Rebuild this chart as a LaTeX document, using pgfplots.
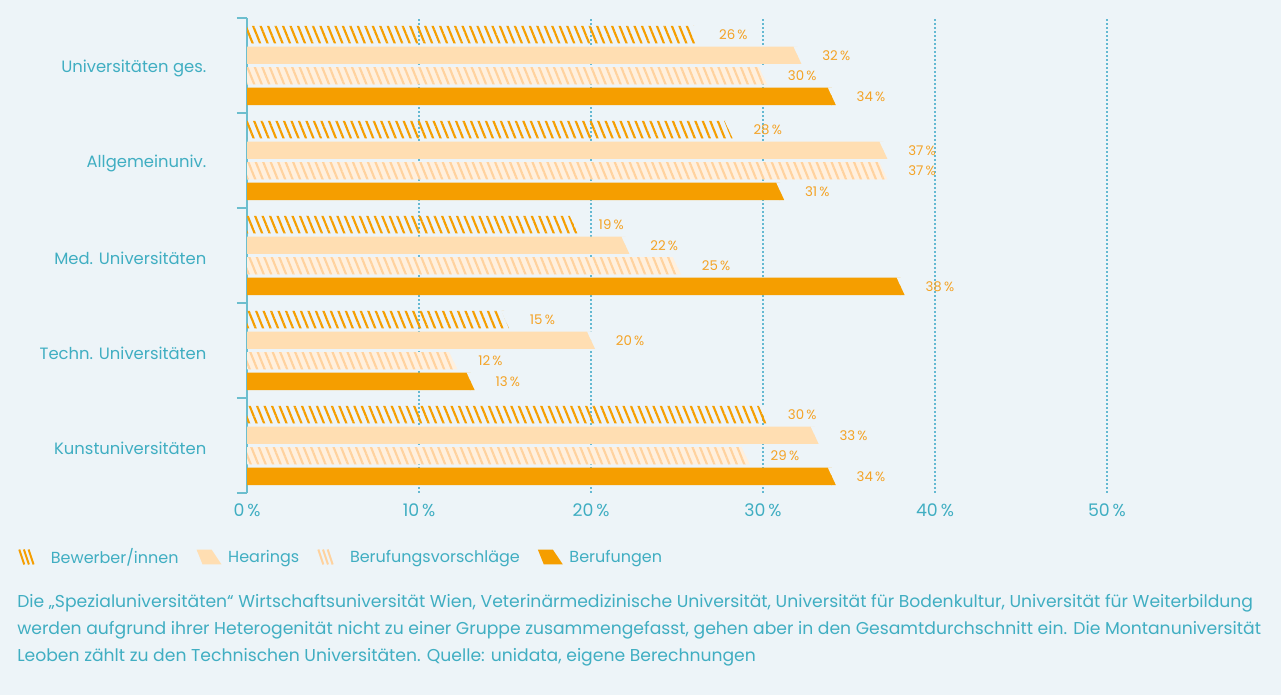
\documentclass[border=0pt]{standalone}
\usepackage{fontspec}
\setmainfont{Poppins}
\usepackage{pgfplots}
\usepackage{pgfplotstable}
\pgfplotsset{compat=1.18}
\usetikzlibrary{patterns.meta}

\definecolor{bg}{RGB}{237,244,248}
\definecolor{tealtext}{RGB}{64,174,194}
\definecolor{axisteal}{RGB}{108,190,206}
\definecolor{gridc}{RGB}{100,185,210}
\definecolor{org}{RGB}{245,158,0}
\definecolor{lbl}{RGB}{244,163,38}
\definecolor{hear}{RGB}{255,222,178}
\definecolor{vfill}{RGB}{255,240,222}
\definecolor{vline}{RGB}{255,210,158}

\tikzset{
  hatchA/.style={pattern={Lines[angle=112,distance=5.2pt,line width=1.6pt]},pattern color=org},
  hatchC/.style={pattern={Lines[angle=112,distance=5.2pt,line width=1.6pt]},pattern color=vline},
}
% slanted bar end: cut the upper corner with the background colour, add the lower triangle
\newcommand{\cutcorner}{%
  \pgfpathmoveto{\pgfqpoint{-3pt}{6.68pt}}\pgfpathlineto{\pgfqpoint{0.6pt}{6.68pt}}%
  \pgfpathlineto{\pgfqpoint{0.6pt}{-1.3pt}}\pgfpathclose
  \pgfsetfillcolor{bg}\pgfusepath{fill}}
\pgfdeclareplotmark{tipA}{\cutcorner\path[hatchA] (-0.5pt,1.08pt) -- (-0.5pt,-6.48pt) -- (3pt,-6.48pt) -- cycle;}
\pgfdeclareplotmark{tipB}{\cutcorner\fill[hear] (-0.5pt,1.08pt) -- (-0.5pt,-6.48pt) -- (3pt,-6.48pt) -- cycle;}
\pgfdeclareplotmark{tipC}{\cutcorner\fill[vfill] (-0.5pt,1.08pt) -- (-0.5pt,-6.48pt) -- (3pt,-6.48pt) -- cycle;}
\pgfdeclareplotmark{tipCh}{\cutcorner\path[hatchC] (-0.5pt,1.08pt) -- (-0.5pt,-6.48pt) -- (3pt,-6.48pt) -- cycle;}
\pgfdeclareplotmark{tipD}{\cutcorner\fill[org] (-0.5pt,1.08pt) -- (-0.5pt,-6.48pt) -- (3pt,-6.48pt) -- cycle;}

\pgfplotstableread{
g bew hear vor ber
4 26 32 30 34
3 28 37 37 31
2 19 22 25 38
1 15 20 12 13
0 30 33 29 34
}\data

\begin{document}
\begin{tikzpicture}
\fill[bg] (0,0) rectangle (960.75pt,521.25pt);
\begin{axis}[
  at={(185.25pt,151.5pt)}, anchor=south west,
  scale only axis, width=645pt, height=356.25pt,
  xmin=0, xmax=50, ymin=-0.5, ymax=4.5,
  clip=false,
  xbar, bar width=0.182, bar shift=0pt,
  axis y line*=left, axis x line*=bottom,
  x axis line style={draw=none},
  y axis line style={-, draw=axisteal, line width=1.1pt},
  xtick={0,10,20,30,40,50},
  xticklabels={0\,\%,10\,\%,20\,\%,30\,\%,40\,\%,50\,\%},
  xtick style={draw=none},
  xmajorgrids, grid style={gridc, dash pattern=on 1.5pt off 1.5pt, line width=0.85pt},
  major tick length=0pt,
  ytick={0,1,2,3,4},
  yticklabels={Kunstuniversitäten, Techn. Universitäten, Med. Universitäten, Allgemeinuniv., Universitäten ges.},
  extra y ticks={-0.5,0.5,1.5,2.5,3.5,4.5},
  extra y tick labels={},
  extra y tick style={major tick length=7.5pt, tick align=outside, tick style={draw=axisteal, line width=1.1pt}},
  yticklabel style={font=\fontsize{12.3}{14.5}\selectfont, text=tealtext, xshift=-27pt, yshift=-2.5pt},
  xticklabel style={font=\fontsize{13}{15.6}\selectfont, text=tealtext, yshift=-4.5pt},
  point meta=x,
  /pgf/number format/assume math mode=true,
  every node near coord/.style={anchor=west, inner sep=0pt, xshift=18.5pt, font=\fontsize{10}{12}\selectfont, text=lbl},
  legend style={at={(axis description cs:-0.2663,-0.1347)}, anchor=west, draw=none, fill=none, inner sep=0pt,
    nodes={inner sep=0pt},
    legend columns=4, font=\fontsize{12}{14.4}\selectfont, text=tealtext,
    /tikz/every odd column/.append style={column sep=5pt},
    /tikz/every even column/.append style={column sep=13.5pt}},
  legend cell align=left,
]
\addplot[xbar, draw=none, hatchA, mark=tipA,
  nodes near coords={\pgfmathprintnumber{\pgfplotspointmeta}\,\%},
  legend image code/.code={\path (0pt,0pt) (18.75pt,0pt); \draw[org,line width=1.5pt] (0pt,5.6pt)--(3.75pt,-5.6pt) (3.5pt,5.6pt)--(7.25pt,-5.6pt) (7pt,5.6pt)--(10.75pt,-5.6pt);}]
  table[x=bew, y expr=\thisrow{g}+0.325]{\data};
\addlegendentry{Bewerber/innen}
\addplot[xbar, draw=none, fill=hear, mark=tipB,
  nodes near coords={\pgfmathprintnumber{\pgfplotspointmeta}\,\%},
  legend image code/.code={\fill[hear] (0pt,5.6pt) -- (11.25pt,5.6pt) -- (18.75pt,-5.6pt) -- (4.5pt,-5.6pt) -- cycle;}]
  table[x=hear, y expr=\thisrow{g}+0.108]{\data};
\addlegendentry{Hearings}
\addplot[xbar, draw=none, fill=vfill, mark=tipC, forget plot]
  table[x=vor, y expr=\thisrow{g}-0.108]{\data};
\addplot[xbar, draw=none, hatchC, mark=tipCh,
  nodes near coords={\pgfmathprintnumber{\pgfplotspointmeta}\,\%},
  legend image code/.code={\path (0pt,0pt) (18.75pt,0pt); \draw[vline,line width=1.5pt] (0pt,5.6pt)--(3.75pt,-5.6pt) (3.5pt,5.6pt)--(7.25pt,-5.6pt) (7pt,5.6pt)--(10.75pt,-5.6pt);}]
  table[x=vor, y expr=\thisrow{g}-0.108]{\data};
\addlegendentry{Berufungsvorschläge}
\addplot[xbar, draw=none, fill=org, mark=tipD,
  nodes near coords={\pgfmathprintnumber{\pgfplotspointmeta}\,\%},
  legend image code/.code={\fill[org] (0pt,5.6pt) -- (11.25pt,5.6pt) -- (18.75pt,-5.6pt) -- (4.5pt,-5.6pt) -- cycle;}]
  table[x=ber, y expr=\thisrow{g}-0.325]{\data};
\addlegendentry{Berufungen}
\end{axis}
\begin{scope}[every node/.style={anchor=base west, inner sep=0pt, text=tealtext, font=\fontsize{12.9}{15}\selectfont}]
\node at (12.75pt,65.25pt) {Die „Spezialuniversitäten“ Wirtschaftsuniversität Wien, Veterinärmedizinische Universität, Universität für Bodenkultur, Universität für Weiterbildung};
\node at (12.75pt,45pt) {werden aufgrund ihrer Heterogenität nicht zu einer Gruppe zusammengefasst, gehen aber in den Gesamtdurchschnitt ein. Die Montanuniversität};
\node at (12.75pt,24.75pt) {Leoben zählt zu den Technischen Universitäten. Quelle: unidata, eigene Berechnungen};
\end{scope}
\pgfresetboundingbox
\useasboundingbox (0,0) rectangle (960.75pt,521.25pt);
\end{tikzpicture}
\end{document}
